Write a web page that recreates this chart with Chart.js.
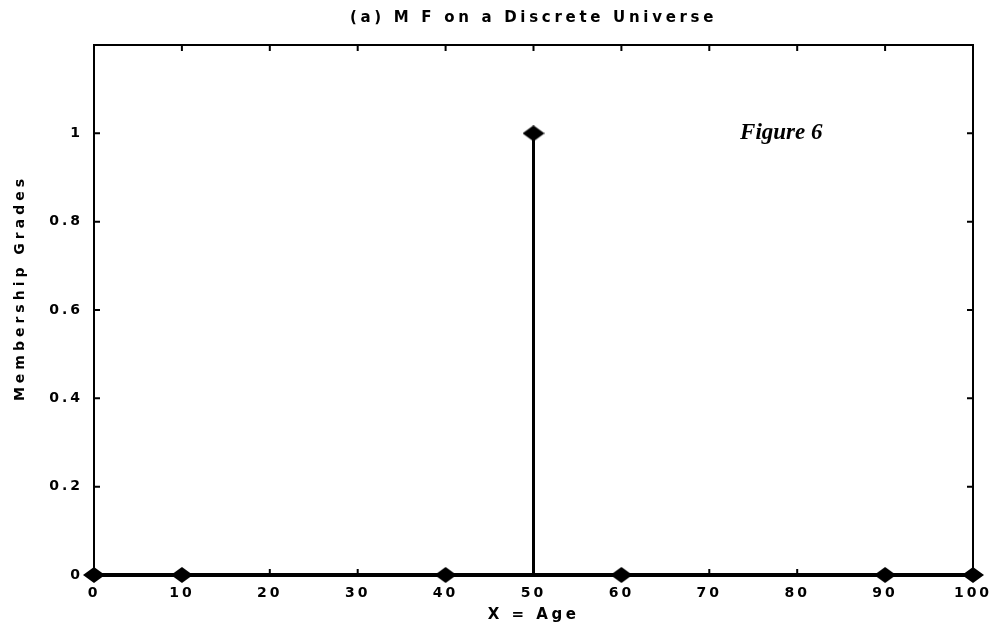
<!DOCTYPE html>
<html>
<head>
<meta charset="utf-8">
<script src="https://cdn.jsdelivr.net/npm/chart.js@4.4.1/dist/chart.umd.min.js"></script>
<style>
  html, body { margin: 0; padding: 0; background: #ffffff; }
  #wrap { width: 997px; height: 630px; position: relative; }
</style>
</head>
<body>
<div id="wrap"><canvas id="c" width="997" height="630"></canvas></div>
<script>
// ---- data ----
const ages = [0, 10, 40, 50, 60, 90, 100];
const grades = [0, 0, 0, 1, 0, 0, 0];
const xTicks = [0, 10, 20, 30, 40, 50, 60, 70, 80, 90, 100];
const yTicks = [0, 0.2, 0.4, 0.6, 0.8, 1];
const xRange = [0, 100];
const yRange = [0, 1.2];
const chartTitle = '(a) M F on a Discrete Universe';
const xTitle = 'X = Age';
const yTitle = 'Membership Grades';
const annotationText = 'Figure 6';
const annotationAt = { x: 73.5, y: 1.0 };

// ---- marker: flat black diamond ----
function makeDiamond(w, h) {
  const c = document.createElement('canvas');
  c.width = w; c.height = h;
  const g = c.getContext('2d');
  g.fillStyle = '#000';
  g.beginPath();
  g.moveTo(w / 2, 0);
  g.lineTo(w, h / 2);
  g.lineTo(w / 2, h);
  g.lineTo(0, h / 2);
  g.closePath();
  g.fill();
  return c;
}
const diamond = makeDiamond(22, 16);

const stemData = [];
ages.forEach((a, i) => {
  stemData.push({ x: a, y: 0 }, { x: a, y: grades[i] }, { x: a, y: null });
});

const SPACING = '3px';
function wrapDraw(obj, name, spacing, dx, dy) {
  if (!obj || obj['_w_' + name]) return;
  const orig = obj[name];
  obj[name] = function () {
    const c = this.ctx;
    c.save();
    c.letterSpacing = spacing;
    c.translate(dx, dy);
    const r = orig.apply(this, arguments);
    c.restore();
    return r;
  };
  obj['_w_' + name] = true;
}
const spacingPlugin = {
  id: 'spacing',
  beforeUpdate(chart) { chart.ctx.letterSpacing = SPACING; },
  beforeLayout(chart) { chart.ctx.letterSpacing = SPACING; },
  afterUpdate(chart) {
    wrapDraw(chart.scales.y, 'drawTitle', '4px', 0, -22);
    wrapDraw(chart.scales.x, 'drawTitle', '3.5px', 0, 0);
    wrapDraw(chart.titleBlock, 'draw', '3.7px', 0, 0);
  },
  beforeDraw(chart) { chart.ctx.letterSpacing = SPACING; }
};

const framePlugin = {
  id: 'frame',
  beforeDatasetsDraw(chart) {
    const { ctx, chartArea: a, scales: { x, y } } = chart;
    ctx.save();
    ctx.strokeStyle = '#000';
    ctx.lineWidth = 2;
    ctx.strokeRect(a.left, a.top, a.right - a.left, a.bottom - a.top);
    const L = 6;
    ctx.beginPath();
    xTicks.forEach(v => {
      const px = x.getPixelForValue(v);
      ctx.moveTo(px, a.bottom); ctx.lineTo(px, a.bottom - L);
      ctx.moveTo(px, a.top); ctx.lineTo(px, a.top + L);
    });
    yTicks.forEach(v => {
      const py = y.getPixelForValue(v);
      ctx.moveTo(a.left, py); ctx.lineTo(a.left + L, py);
      ctx.moveTo(a.right, py); ctx.lineTo(a.right - L, py);
    });
    ctx.stroke();
    ctx.restore();
  },
  afterDraw(chart) {
    const { ctx, scales: { x, y } } = chart;
    ctx.save();
    ctx.letterSpacing = '0px';
    ctx.fillStyle = '#000';
    ctx.font = 'italic bold 23px "Liberation Serif"';
    ctx.textAlign = 'left';
    ctx.textBaseline = 'middle';
    ctx.fillText(annotationText, x.getPixelForValue(annotationAt.x), y.getPixelForValue(annotationAt.y));
    ctx.restore();
  }
};

const FAM = '"DejaVu Sans", "Liberation Sans", sans-serif';
const tickFont = { family: FAM, size: 14, weight: 'bold' };

new Chart(document.getElementById('c'), {
  type: 'scatter',
  data: {
    datasets: [
      {
        label: 'baseline',
        data: [{ x: xRange[0], y: 0 }, { x: xRange[1], y: 0 }],
        showLine: true, borderColor: '#000', borderWidth: 4,
        pointRadius: 0, clip: false, order: 3
      },
      {
        label: 'stems',
        data: stemData,
        showLine: true, spanGaps: false, borderColor: '#000', borderWidth: 3,
        pointRadius: 0, clip: false, order: 2
      },
      {
        label: 'MF',
        data: ages.map((a, i) => ({ x: a, y: grades[i] })),
        showLine: false, pointStyle: diamond, pointRadius: 8,
        backgroundColor: '#000', borderColor: '#000', clip: false, order: 1
      }
    ]
  },
  options: {
    responsive: false,
    animation: false,
    events: [],
    layout: { padding: { left: 0, right: 24, top: 0, bottom: 0 } },
    plugins: {
      legend: { display: false },
      tooltip: { enabled: false },
      title: {
        display: true, text: chartTitle, color: '#000', fullSize: false,
        font: { family: FAM, size: 15, weight: 'bold' },
        padding: { top: 9, bottom: 18 }
      }
    },
    scales: {
      x: {
        type: 'linear', min: xRange[0], max: xRange[1],
        grid: { display: false }, border: { display: false },
        afterBuildTicks: s => { s.ticks = xTicks.map(v => ({ value: v })); },
        afterFit: s => { s.height = 55; },
        ticks: { color: '#000', font: tickFont, padding: 2, maxRotation: 0, autoSkip: false },
        title: { display: true, text: xTitle, color: '#000',
          font: { family: FAM, size: 15, weight: 'bold' },
          padding: { top: 0, bottom: 6 } }
      },
      y: {
        type: 'linear', min: yRange[0], max: yRange[1],
        grid: { display: false }, border: { display: false },
        afterBuildTicks: s => { s.ticks = yTicks.map(v => ({ value: v })); },
        afterFit: s => { s.width = 94; },
        ticks: { color: '#000', font: tickFont, padding: 3,
          callback: v => String(Math.round(v * 10) / 10) },
        title: { display: true, text: yTitle, color: '#000',
          font: { family: FAM, size: 14, weight: 'bold' },
          padding: { top: 12, bottom: 0 } }
      }
    }
  },
  plugins: [spacingPlugin, framePlugin]
});
</script>
</body>
</html>
